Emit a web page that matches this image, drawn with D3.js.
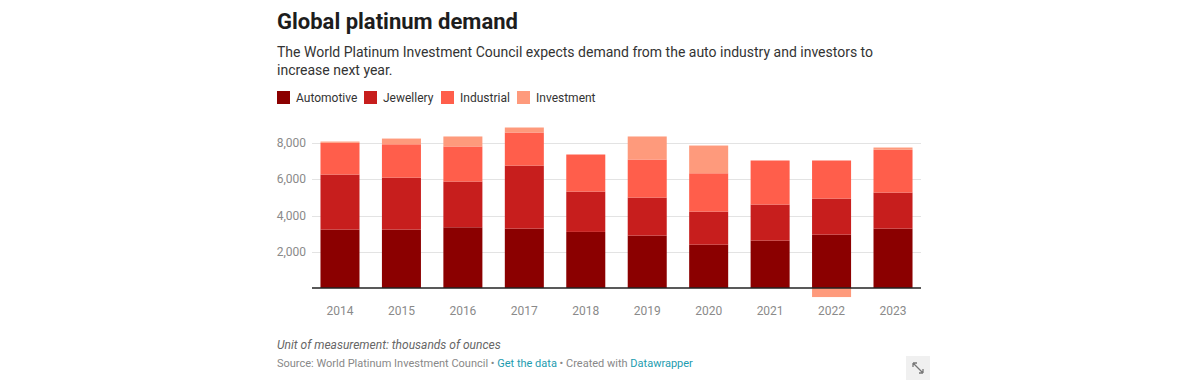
<!DOCTYPE html>
<html>
<head>
<meta charset="utf-8">
<script src="https://cdn.jsdelivr.net/npm/d3@7"></script>
<style>
  body { margin: 0; background: #fff; font-family: Roboto, "Noto Sans", sans-serif; }
  svg text { font-family: Roboto, "Noto Sans", sans-serif; }
</style>
</head>
<body>
<div id="chart"></div>
<script>
const years = ["2014","2015","2016","2017","2018","2019","2020","2021","2022","2023"]
const seriesNames = ["Automotive","Jewellery","Industrial","Investment"]
const automotive = [3220, 3220, 3350, 3275, 3095, 2890, 2390, 2615, 2945, 3275]
const jewellery  = [3040, 2870, 2525, 3480, 2225, 2100, 1825, 1990, 1990, 1990]
const industrial = [1750, 1840, 1935, 1825, 2045, 2100, 2115, 2430, 2100, 2360]
const investment = [  70,  315,  550,  275,    0, 1270, 1530,    0, -500,  125]
const yTicks = [2000, 4000, 6000, 8000]
const colors = ["#8b0000", "#c71e1d", "#ff5e4b", "#fe9a7c"]

const width = 1200, height = 380
const margin = {left: 312, right: 279, top: 128, baseline: 288}

const svg = d3.select("#chart").append("svg")
    .attr("width", width)
    .attr("height", height)

// header
svg.append("text").attr("x", 277).attr("y", 29)
    .attr("font-size", 22).attr("font-weight", 700).attr("fill", "#1d1d1d")
    .text("Global platinum demand")
const sub = svg.append("text").attr("font-size", 14).attr("fill", "#333")
sub.append("tspan").attr("x", 277).attr("y", 57)
    .text("The World Platinum Investment Council expects demand from the auto industry and investors to")
sub.append("tspan").attr("x", 277).attr("y", 75).text("increase next year.")

// legend
const legendX = [277, 364, 441, 517]
const lg = svg.selectAll("g.legend").data(seriesNames).join("g")
    .attr("class", "legend")
    .attr("transform", (d, i) => `translate(${legendX[i]}, 91)`)
lg.append("rect").attr("width", 13).attr("height", 13).attr("fill", (d, i) => colors[i])
lg.append("text").attr("x", 19).attr("y", 11).attr("font-size", 12).attr("fill", "#333").text(d => d)

// scales
const x = d3.scaleBand().domain(years)
    .range([margin.left, width - margin.right])
    .paddingInner(0.365).paddingOuter(0.138)
const y = d3.scaleLinear().domain([0, 8000])
    .range([margin.baseline, margin.baseline - 145])

// grid
svg.append("g").selectAll("line").data(yTicks).join("line")
    .attr("x1", margin.left).attr("x2", width - margin.right)
    .attr("y1", d => Math.round(y(d)) + 0.5).attr("y2", d => Math.round(y(d)) + 0.5)
    .attr("stroke", "#e3e3e3")
svg.append("g").selectAll("text").data(yTicks).join("text")
    .attr("x", 306).attr("y", d => y(d) + 4)
    .attr("text-anchor", "end").attr("font-size", 12).attr("fill", "#8a8a8a")
    .text(d => d3.format(",")(d))

// stacked bars
const table = years.map((yr, i) => ({
  year: yr,
  Automotive: automotive[i], Jewellery: jewellery[i],
  Industrial: industrial[i], Investment: investment[i]
}))
const stack = d3.stack().keys(seriesNames).offset(d3.stackOffsetDiverging)(table)

svg.append("g").selectAll("g").data(stack).join("g")
    .attr("fill", (d, i) => colors[i])
  .selectAll("rect").data(d => d).join("rect")
    .attr("x", d => x(d.data.year))
    .attr("width", x.bandwidth())
    .attr("y", d => y(Math.max(d[0], d[1])))
    .attr("height", d => Math.abs(y(d[0]) - y(d[1])))

// baseline
svg.append("line")
    .attr("x1", margin.left).attr("x2", width - margin.right)
    .attr("y1", y(0)).attr("y2", y(0))
    .attr("stroke", "#222").attr("stroke-width", 1.3)

// x labels
svg.append("g").selectAll("text").data(years).join("text")
    .attr("x", d => x(d) + x.bandwidth() / 2).attr("y", 315)
    .attr("text-anchor", "middle").attr("font-size", 12).attr("fill", "#8a8a8a")
    .text(d => d)

// footer
svg.append("text").attr("x", 277).attr("y", 349)
    .attr("font-size", 12).attr("font-style", "italic").attr("fill", "#666")
    .text("Unit of measurement: thousands of ounces")
const src = svg.append("text").attr("x", 277).attr("y", 367)
    .attr("font-size", 11).attr("fill", "#888")
src.append("tspan").text("Source: World Platinum Investment Council • ")
src.append("tspan").attr("fill", "#1d9cb0").text("Get the data")
src.append("tspan").text(" • Created with ")
src.append("tspan").attr("fill", "#1d9cb0").text("Datawrapper")

// expand icon
const ic = svg.append("g").attr("transform", "translate(906, 356)")
ic.append("rect").attr("width", 24).attr("height", 24).attr("fill", "#f0f0f0")
ic.append("path").attr("d", "M7,7 L17,17 M7,7 L7,11 M7,7 L11,7 M17,17 L17,13 M17,17 L13,17")
    .attr("stroke", "#777").attr("stroke-width", 1.3).attr("fill", "none")
</script>
</body>
</html>
